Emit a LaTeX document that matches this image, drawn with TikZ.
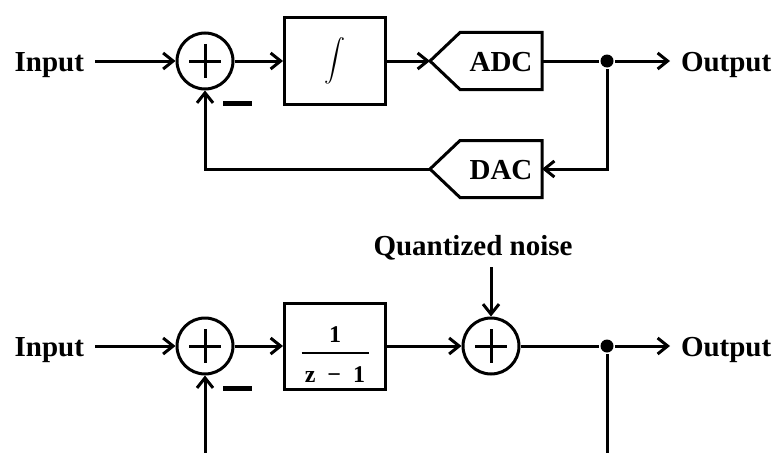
\documentclass[tikz,border=0pt]{standalone}
\usepackage{graphicx}
\usepackage{fontspec}
\setmainfont{Liberation Serif}
\usetikzlibrary{arrows.meta,calc}
\newcommand\plussign[1]{\draw ($(#1)+(-16,0)$) -- ($(#1)+(16,0)$) ($(#1)+(0,-17)$) -- ($(#1)+(0,17)$);}
\begin{document}
\begin{tikzpicture}[x=1pt,y=-1pt,line width=3pt,
  arr/.style={-{Straight Barb[length=10pt,width=16pt]}},
  lbl/.style={font=\fontsize{29}{34}\selectfont\bfseries, inner xsep=11pt, inner ysep=0pt, outer sep=0pt, text height=20pt, text depth=0pt},
  sum/.style={circle, draw, minimum size=56pt, inner sep=0pt},
  blk/.style={draw, minimum width=101pt, minimum height=86pt, inner sep=0pt},
  conv/.style={minimum width=82pt, minimum height=57pt, inner sep=0pt, outer sep=0pt, font=\fontsize{29}{34}\selectfont\bfseries, text height=20pt, text depth=0pt},
  dot/.style={circle, fill, inner sep=0pt, minimum size=13pt},
  minus/.style={inner sep=0pt, outer sep=0pt}
]
\useasboundingbox (0,0) rectangle (775,452);
% ---------- top diagram ----------
\node[lbl, anchor=east] (in1) at (95,61) {Input};
\node[sum] (s1) at (205,61) {};
\plussign{s1}
\node[minus] (m1) at (237.5,103.5) {\rule{29pt}{5pt}};
\node[blk] (int) at (335,61) {\scalebox{2.1}{$\displaystyle\int$}};
\node[conv] (adc) at (501,61) {ADC};
\coordinate (adctip) at ($(adc.west)+(-30,0)$);
\draw (adc.north east) -- (adc.north west) -- (adctip) -- (adc.south west) -- (adc.south east) -- cycle;
\node[dot] (d1) at (607,61) {};
\node[lbl, anchor=west] (out1) at (670,61) {Output};
\node[conv] (dac) at (501,169) {DAC};
\coordinate (dactip) at ($(dac.west)+(-30,0)$);
\draw (dac.north east) -- (dac.north west) -- (dactip) -- (dac.south west) -- (dac.south east) -- cycle;
\draw[arr] (in1) -- (s1);
\draw[arr] (s1) -- (int);
\draw[arr] (int) -- (adctip);
\draw (adc.east) -- (d1);
\draw[arr] (d1) -- (out1);
\draw[arr] (d1) |- (dac.east);
\draw[arr] (dactip) -| (s1.south);
% ---------- bottom diagram ----------
\node[lbl, anchor=east] (in2) at (95,346) {Input};
\node[sum] (s3) at (205,346) {};
\plussign{s3}
\node[minus] (m2) at (237.5,388.5) {\rule{29pt}{5pt}};
\node[blk, font=\fontsize{24}{28}\selectfont\bfseries, text height=73pt, text depth=0pt] (frac) at (335,346)
  {\vbox{\hbox to 67pt{\hss 1\hss}\kern9pt\hrule height 2pt\kern13pt
         \hbox to 67pt{\hss z\hskip 12pt−\hskip 12pt1\hss}}};
\node[sum] (s4) at (491,346) {};
\plussign{s4}
\node[lbl, anchor=base] (qn) at (473,255) {Quantized noise};
\node[dot] (d2) at (607,346) {};
\node[lbl, anchor=west] (out2) at (670,346) {Output};
\coordinate (e1) at (205,456);
\coordinate (e2) at (607,456);
\draw[arr] (in2) -- (s3);
\draw[arr] (s3) -- (frac);
\draw[arr] (frac) -- (s4);
\draw[arr] ($(qn.south -| s4.north)+(0,12)$) -- (s4.north);
\draw (s4) -- (d2);
\draw[arr] (d2) -- (out2);
\draw (d2) -- (e2);
\draw[arr] (e1) -- (s3.south);
\end{tikzpicture}
\end{document}
